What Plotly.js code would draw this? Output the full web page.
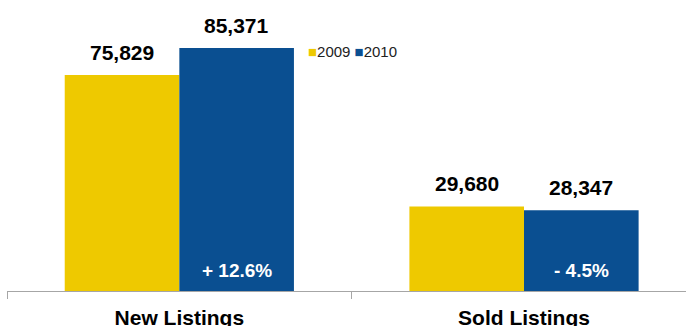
<!DOCTYPE html>
<html>
<head>
<meta charset="utf-8">
<script src="https://cdn.plot.ly/plotly-3.0.1.min.js"></script>
<style>html,body{margin:0;padding:0;background:#fff;}</style>
</head>
<body>
<div id="chart" style="width:686px;height:326px"></div>
<script>
const categories = ['New Listings', 'Sold Listings'];
const years = ['2009', '2010'];
const values2009 = [75829, 29680];
const values2010 = [85371, 28347];
const changeLabels = ['+ 12.6%', '- 4.5%'];

const colors = {y2009: '#EEC900', y2010: '#0A4F91', axis: '#A6A6A6'};
const FONT = 'Liberation Sans, Arial, sans-serif';
const W = 686, H = 326;
const margin = {l: 7, r: 0, t: 0, b: 35, pad: 0};
const xRange = [-0.5, 1.47];
const yRange = [0, 102200];
const bargap = 0.335;
const pxPerUnit = (W - margin.l - margin.r) / (xRange[1] - xRange[0]);
const barOffsetPx = (1 - bargap) / 4 * pxPerUnit;
const fmt = v => v.toLocaleString('en-US');

const traces = [
  {type: 'bar', name: years[0], x: categories, y: values2009, marker: {color: colors.y2009}, hoverinfo: 'none'},
  {type: 'bar', name: years[1], x: categories, y: values2010, marker: {color: colors.y2010}, hoverinfo: 'none'}
];

const annotations = [];
categories.forEach((c, i) => {
  annotations.push({x: c, y: values2009[i], xref: 'x', yref: 'y', xshift: -barOffsetPx, yanchor: 'bottom', yshift: 9,
    text: fmt(values2009[i]), showarrow: false, font: {family: FONT, size: 21, color: '#000', weight: 'bold'}});
  annotations.push({x: c, y: values2010[i], xref: 'x', yref: 'y', xshift: barOffsetPx, yanchor: 'bottom', yshift: 9,
    text: fmt(values2010[i]), showarrow: false, font: {family: FONT, size: 21, color: '#000', weight: 'bold'}});
  annotations.push({x: c, y: 0, xref: 'x', yref: 'y', xshift: barOffsetPx, yanchor: 'bottom', yshift: 8,
    text: changeLabels[i], showarrow: false, font: {family: FONT, size: 19, color: '#fff', weight: 'bold'}});
});
// legend
annotations.push({
  xref: 'paper', yref: 'paper', x: (306 - margin.l) / (W - margin.l - margin.r), y: (291 - 51) / (H - margin.b - margin.t),
  xanchor: 'left', yanchor: 'middle', showarrow: false,
  text: '<span style="color:' + colors.y2009 + '">■</span>' + years[0] + ' <span style="color:' + colors.y2010 + '">■</span>' + years[1],
  font: {family: FONT, size: 15, color: '#222'}
});

const layout = {
  width: W, height: H, margin: margin,
  paper_bgcolor: '#fff', plot_bgcolor: '#fff',
  barmode: 'group', bargap: bargap, bargroupgap: 0,
  showlegend: false,
  font: {family: FONT},
  xaxis: {
    type: 'category', range: xRange, showline: true, linecolor: colors.axis, linewidth: 1,
    ticks: 'outside', tickson: 'boundaries', ticklen: 7, tickcolor: colors.axis, tickwidth: 1,
    tickfont: {family: FONT, size: 21, color: '#000', weight: 'bold'}, ticklabelstandoff: 8,
    showgrid: false, zeroline: false, fixedrange: true
  },
  yaxis: {range: yRange, visible: false, showgrid: false, zeroline: false, fixedrange: true},
  annotations: annotations
};

Plotly.newPlot('chart', traces, layout, {staticPlot: true, displayModeBar: false});
</script>
</body>
</html>
